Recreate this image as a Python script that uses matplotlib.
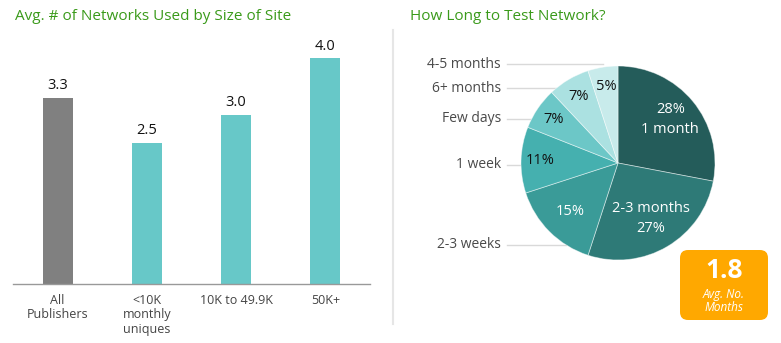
import numpy as np
import matplotlib
matplotlib.use("Agg")
import matplotlib.pyplot as plt
from matplotlib.patches import FancyBboxPatch

plt.rcParams['font.family'] = ['Open Sans', 'DejaVu Sans']

# donnees barres
bar_labels = ["All\nPublishers", "<10K\nmonthly\nuniques", "10K to 49.9K", "50K+"]
bar_values = [3.3, 2.5, 3.0, 4.0]
bar_colors = ["#808080", "#67c8c8", "#67c8c8", "#67c8c8"]

# donnees camembert
pie_labels = ["1 month", "2-3 months", "2-3 weeks", "1 week", "Few days", "6+ months", "4-5 months"]
pie_values = [28, 27, 15, 11, 7, 7, 5]
pie_colors = ["#245c5a", "#2e7a77", "#3a9b98", "#45b0af", "#6cc7c7", "#abe1e1", "#c8ebeb"]
avg_months = "1.8"

green = "#3a9a1a"
W, H = 781, 343
fig = plt.figure(figsize=(W / 100, H / 100), dpi=100)

# --- graphique barres
ax = fig.add_axes([13 / W, 59 / H, 357 / W, 244 / H])
x = np.arange(len(bar_values))
ax.bar(x, bar_values, width=0.335, color=bar_colors)
ax.set_xlim(-0.5, 3.5)
ax.set_ylim(0, 4.32)
for xi, v in zip(x, bar_values):
    ax.text(xi, v + 0.08, f"{v:.1f}", ha="center", va="bottom", fontsize=10.5, color="#111111")
ax.set_xticks(x)
ax.set_xticklabels(bar_labels, fontsize=9, color="#444444", linespacing=1.15, va="top")
ax.tick_params(axis="x", length=0, pad=7)
ax.set_yticks([])
for s in ["top", "right", "left"]:
    ax.spines[s].set_visible(False)
ax.spines["bottom"].set_color("#999999")
ax.spines["bottom"].set_linewidth(1)

# --- calque en pixels pour le reste
ov = fig.add_axes([0, 0, 1, 1])

cx, cy, r = 618, H - 163, 97
wedges, _ = ov.pie(pie_values, colors=pie_colors, startangle=90, counterclock=False,
                   center=(cx, cy), radius=r, frame=True,
                   wedgeprops=dict(linewidth=0.6, edgecolor="#ffffff80"))
ov.set_xlim(0, W)
ov.set_ylim(0, H)
ov.set_aspect("auto")
ov.axis("off")

ov.text(15, H - 17, "Avg. # of Networks Used by Size of Site", color=green, fontsize=11, va="center", ha="left")
ov.text(410, H - 17, "How Long to Test Network?", color=green, fontsize=11, va="center", ha="left")
ov.plot([393, 393], [H - 30, H - 324], color="#e6e6e6", lw=1.5)

# textes dans les parts
tot = float(sum(pie_values))
start = 90.0
mids = []
for v in pie_values:
    ang = start - v / tot * 360
    mids.append((start + ang) / 2)
    start = ang
inside = {
    0: (f"{pie_values[0]}%\n{pie_labels[0]}", 0.7, "white"),
    1: (f"{pie_labels[1]}\n{pie_values[1]}%", 0.66, "white"),
    2: (f"{pie_values[2]}%", 0.7, "white"),
    3: (f"{pie_values[3]}%", 0.8, "#111111"),
    4: (f"{pie_values[4]}%", 0.8, "#111111"),
    5: (f"{pie_values[5]}%", 0.8, "#111111"),
    6: (f"{pie_values[6]}%", 0.8, "#111111"),
}
for i, (txt, rf, col) in inside.items():
    a = np.radians(mids[i])
    ov.text(cx + rf * r * np.cos(a), cy + rf * r * np.sin(a), txt, ha="center", va="center",
            fontsize=10.5, color=col, linespacing=1.45)

# etiquettes externes avec traits
outside_y = {6: 64, 5: 88, 4: 119, 3: 165, 2: 245}
for i, yy in outside_y.items():
    dy = (H - yy) - cy
    if abs(dy) < r:
        xe = cx - np.sqrt(r ** 2 - dy ** 2)
    else:
        xe = cx + r * np.cos(np.radians(mids[i]))
    ov.plot([507, xe], [H - yy, H - yy], color="#d9d9d9", lw=1, zorder=0)
    ov.text(501, H - yy, pie_labels[i], ha="right", va="center", fontsize=10, color="#4a4a4a")

# encadre moyenne
box = FancyBboxPatch((680, H - 320), 88, 70, boxstyle="round,pad=0,rounding_size=8",
                     facecolor="#ffa800", edgecolor="none")
ov.add_patch(box)
ov.text(724, H - 270, avg_months, ha="center", va="center", fontsize=19, fontweight="bold", color="white")
ov.text(724, H - 301, "Avg. No.\nMonths", ha="center", va="center", fontsize=8.5, style="italic",
        color="white", linespacing=1.05)

fig.savefig("out.png", dpi=100)
